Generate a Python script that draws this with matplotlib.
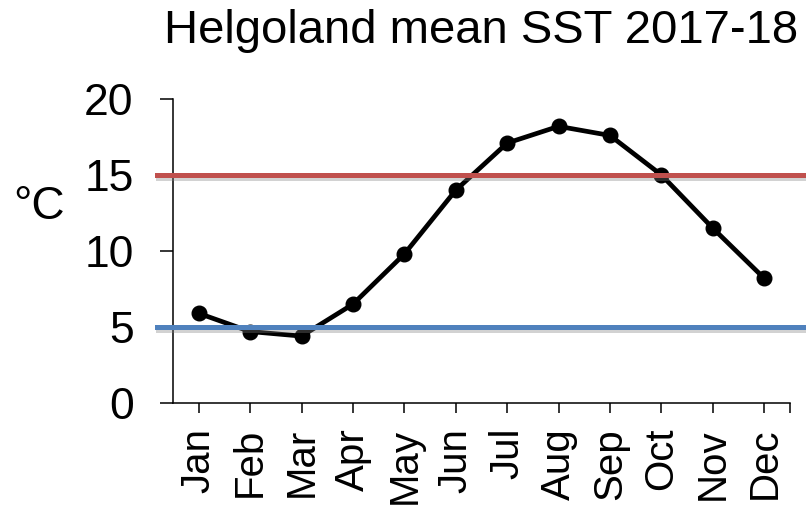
import matplotlib
matplotlib.use("Agg")
import matplotlib.pyplot as plt
import matplotlib.patheffects as pe

plt.rcParams['font.family'] = ['Liberation Sans', 'DejaVu Sans']

months = ["Jan", "Feb", "Mar", "Apr", "May", "Jun",
          "Jul", "Aug", "Sep", "Oct", "Nov", "Dec"]
sst = [5.9, 4.7, 4.4, 6.5, 9.8, 14.0, 17.1, 18.2, 17.6, 15.0, 11.5, 8.2]
upper_ref = 15
lower_ref = 5
y_ticks = [0, 5, 10, 15, 20]

fig = plt.figure(figsize=(8.06, 5.05), dpi=100)
ax = fig.add_axes([0.2146, 0.202, 0.7655, 0.602])

x = list(range(len(months)))
ax.plot(x, sst, color="black", lw=3.4, marker="o", ms=10.5, zorder=3)

shadow = [pe.SimpleLineShadow(offset=(0.5, -2.0), shadow_color="gray", alpha=0.35),
          pe.Normal()]
for val, col in [(upper_ref, "#C0504D"), (lower_ref, "#4F81BD")]:
    ax.axhline(val, xmin=-0.026, xmax=1.03, color=col, lw=3.6,
               clip_on=False, zorder=4, path_effects=shadow)

ax.set_xlim(-0.5, len(months) - 0.5)
ax.set_ylim(0, 20)
ax.set_yticks(y_ticks)
ax.set_yticklabels([str(v) for v in y_ticks])
ax.set_xticks(x)
ax.set_xticklabels(months, rotation=90, va="top", ha="center")
ax.set_xticks([len(months) - 0.5], minor=True)

for s in ["top", "right"]:
    ax.spines[s].set_visible(False)
for s in ["left", "bottom"]:
    ax.spines[s].set_linewidth(1.1)

ax.tick_params(axis="y", direction="out", length=9.4, width=1.1,
               labelsize=32, pad=19)
ax.tick_params(axis="x", which="both", direction="out", length=7, width=1.1,
               labelsize=29, pad=11)

ax.set_title("Helgoland mean SST 2017-18", fontsize=34, pad=40)
fig.text(0.048, 0.59, "°C", fontsize=33, ha="center", va="center")

fig.savefig("out.png", dpi=100)
